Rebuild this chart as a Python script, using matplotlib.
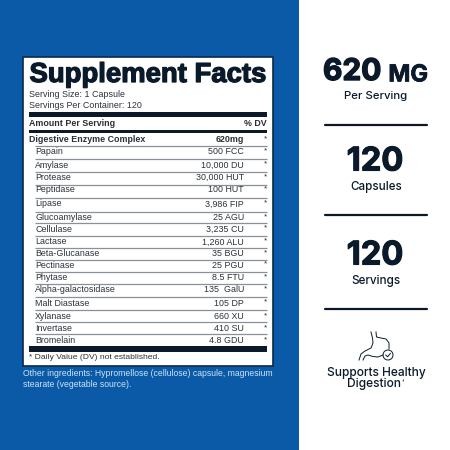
import matplotlib
matplotlib.use("Agg")
import matplotlib.pyplot as plt
from matplotlib.patches import Rectangle, Circle
import matplotlib.patheffects as pe

ingredients = ["Papain", "Amylase", "Protease", "Peptidase", "Lipase", "Glucoamylase", "Cellulase",
               "Lactase", "Beta-Glucanase", "Pectinase", "Phytase", "Alpha-galactosidase",
               "Malt Diastase", "Xylanase", "Invertase", "Bromelain"]
amounts = ["500 FCC", "10,000 DU", "30,000 HUT", "100 HUT", "3,986 FIP", "25 AGU", "3,235 CU",
           "1,260 ALU", "35 BGU", "25 PGU", "8.5 FTU", "135  GalU", "105 DP", "660 XU", "410 SU", "4.8 GDU"]
stat_values = ["120", "120"]
stat_labels = ["Capsules", "Servings"]

row_y = [152, 165, 177.5, 190, 204, 217.5, 229, 242, 254, 265, 278, 290, 303, 316.5, 328.5, 340.5]
sep_y = [146, 159, 172, 184.5, 197.7, 212, 222.5, 235.5, 247.7, 259.5, 271.7, 284, 297, 310, 322, 334]

BLUE = "#0a5aa8"
INK = "#0b1a2b"
TXT = "#2b3038"
GREY = "#8a9098"

fig = plt.figure(figsize=(4.5, 4.5), dpi=100, facecolor="white")
ax = fig.add_axes([0, 0, 1, 1])
ax.set_xlim(0, 450)
ax.set_ylim(450, 0)
ax.axis("off")

ax.add_patch(Rectangle((0, 0), 299, 450, fc=BLUE, ec="none"))
ax.add_patch(Rectangle((23, 57), 250, 309, fc="white", ec="#0a2a4a", lw=1.2))

SANS = "Liberation Sans"
t = ax.text(29.5, 75, "Supplement Facts", fontsize=19.8, family=SANS, weight="bold", color=INK, va="center", ha="left")
t.set_path_effects([pe.withStroke(linewidth=0.9, foreground=INK)])
ax.text(29, 94.5, "Serving Size: 1 Capsule", fontsize=6.4, family=SANS, color=TXT, va="center")
ax.text(29, 105, "Servings Per Container: 120", fontsize=6.4, family=SANS, color=TXT, va="center")

for y, h in [(111.5, 5.5), (129.5, 3.5), (346, 6)]:
    ax.add_patch(Rectangle((29, y), 238, h, fc=INK, ec="none"))

ax.text(29, 123, "Amount Per Serving", fontsize=6.4, family=SANS, weight="bold", color=TXT, va="center")
ax.text(267, 123, "% DV", fontsize=6.4, family=SANS, weight="bold", color=TXT, va="center", ha="right")
ax.text(29, 140, "Digestive Enzyme Complex", fontsize=6.4, family=SANS, weight="bold", color=TXT, va="center")
ax.text(244, 140, "620mg", fontsize=6.4, family=SANS, weight="bold", color=TXT, va="center", ha="right")
ax.text(265, 139, "*", fontsize=6, family=SANS, color=TXT, va="center", ha="center")

for y in sep_y:
    ax.plot([35, 267], [y, y], color=GREY, lw=0.9, solid_capstyle="butt")

for name, amount, y in zip(ingredients, amounts, row_y):
    ax.text(35, y, name, fontsize=6.4, family=SANS, color=TXT, va="center")
    ax.text(244, y, amount, fontsize=6.4, family=SANS, color=TXT, va="center", ha="right")
    ax.text(265, y - 1, "*", fontsize=6, family=SANS, color=TXT, va="center", ha="center")

ax.text(29, 357.5, "* Daily Value (DV) not established.", fontsize=6.1, family=SANS, color=TXT, va="center")
ax.text(23, 373.5, "Other ingredients: Hypromellose (cellulose) capsule, magnesium", fontsize=6.2, family=SANS, color="#cfe4f5", va="center")
ax.text(23, 384.5, "stearate (vegetable source).", fontsize=6.2, family=SANS, color="#cfe4f5", va="center")

RF = "Inter"
big = ax.text(323, 72, "620", fontsize=21.5, family=RF, weight="bold", color=INK, va="center", ha="left")
big.set_path_effects([pe.withStroke(linewidth=1.0, foreground=INK)])
mg = ax.text(428, 75.5, "MG", fontsize=17, family=RF, weight="bold", color=INK, va="center", ha="right")
mg.set_path_effects([pe.withStroke(linewidth=0.5, foreground=INK)])
ax.text(376, 96, "Per Serving", fontsize=8.2, family=RF, weight="medium", color=INK, va="center", ha="center")

for y, value, label in zip([162, 256], stat_values, stat_labels):
    v = ax.text(375, y, value, fontsize=23.5, family=RF, weight="bold", color=INK, va="center", ha="center")
    v.set_path_effects([pe.withStroke(linewidth=0.8, foreground=INK)])
    ax.text(376, y + 25, label, fontsize=8.4, family=RF, weight="medium", color=INK, va="center", ha="center")

for y in [125, 215, 308.5]:
    ax.plot([325, 427], [y, y], color=INK, lw=1.6, solid_capstyle="round")

# stomach icon
ax.plot([376, 376.5, 381, 386, 389, 389],
        [332, 337, 338, 339, 343, 349], color=INK, lw=0.7)
ax.plot([371, 372.5, 373, 371, 365, 361, 359],
        [332, 338, 343, 348, 351, 354, 360], color=INK, lw=0.7)
ax.plot([363, 365, 368, 373, 378, 383],
        [360, 356, 355, 356.5, 357, 355], color=INK, lw=0.7)
ax.add_patch(Circle((388, 355), 5, fc="white", ec=INK, lw=0.7))
ax.plot([385.8, 387.5, 390.4], [355, 356.8, 353.5], color=INK, lw=0.7)

ax.text(376, 373, "Supports Healthy", fontsize=8.6, family=RF, weight="medium", color=INK, va="center", ha="center")
ax.text(374.5, 384.5, "Digestion", fontsize=8.6, family=RF, weight="medium", color=INK, va="center", ha="center")
ax.text(403, 381, "†", fontsize=3.5, family=RF, color=INK, va="center", ha="center")

fig.savefig("out.png", dpi=100, facecolor="white")
